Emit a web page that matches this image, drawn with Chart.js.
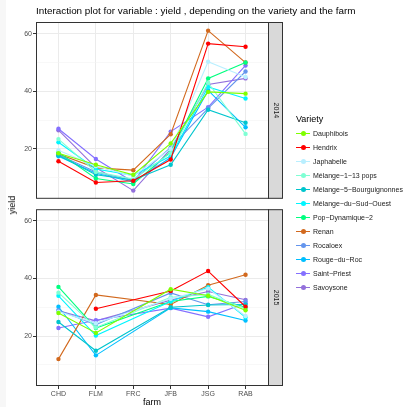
<!DOCTYPE html>
<html>
<head>
<meta charset="utf-8">
<script src="https://cdn.jsdelivr.net/npm/chart.js@4.4.1/dist/chart.umd.min.js"></script>
<style>
  body { margin: 0; background: #f7f7f7; font-family: "Liberation Sans", Arial, sans-serif; }
  #sheet { position: absolute; left: 6px; top: 0; width: 400px; height: 407px; background: #fff; }
  canvas { position: absolute; left: 0; }
  #title { position: absolute; left: 36px; top: 5px; font-size: 9.9px; color: #000; white-space: nowrap; }
  #ylab { position: absolute; left: 12px; top: 205px; font-size: 9px; color: #000;
          transform: translate(-50%, -50%) rotate(-90deg); }
  #legend { position: absolute; left: 296px; top: 112px; }
  #legend .head { font-size: 9px; height: 14px; line-height: 14px; margin-bottom: 0px; }
  #legend .item { height: 14.05px; display: flex; align-items: center; font-size: 7px; color: #1a1a1a; white-space: nowrap; }
  #legend .key { position: relative; width: 14px; height: 14px; margin-right: 3px; }
  #legend .key i { position: absolute; left: 0; top: 6.5px; width: 14px; height: 1.2px; }
  #legend .key b { position: absolute; left: 4.5px; top: 4.6px; width: 5px; height: 5px; border-radius: 50%; }
</style>
</head>
<body>
<div id="sheet"></div>
<canvas id="top2014" width="406" height="204" style="top:0"></canvas>
<canvas id="bottom2015" width="406" height="203" style="top:204px"></canvas>
<div id="title">Interaction plot for variable : yield , depending on the variety and the farm</div>
<div id="ylab">yield</div>
<div id="legend"><div class="head">Variety</div></div>
<script>
'use strict';

// data
let farms = ['CHD', 'FLM', 'FRC', 'JFB', 'JSG', 'RAB'];
let varieties = ['Dauphibois', 'Hendrix', 'Japhabelle', 'Mélange−1−13 pops',
  'Mélange−5−Bourguignonnes', 'Mélange−du−Sud−Ouest', 'Pop−Dynamique−2', 'Renan',
  'Rocaloex', 'Rouge−du−Roc', 'Saint−Priest', 'Savoysone'];
let varietyColors = ['#7fff00', '#ff0000', '#b9efff', '#7fffd4', '#00c5cd', '#00f5ff',
  '#00ff7f', '#d2691e', '#6495ed', '#00bfff', '#8470ff', '#9370db'];

let yield2014 = [
  [18.5, 14.5, 11.0, 21.9, 39.8, 39.2],
  [15.7, 8.3, 8.9, 16.3, 56.6, 55.5],
  [19.5, 14.0, 10.5, 20.0, 50.3, 45.0],
  [23.4, 12.0, 9.5, 18.5, 43.0, 25.2],
  [17.8, 11.0, 9.2, 14.5, 33.6, 29.1],
  [22.3, 13.0, 10.8, 17.5, 41.5, 37.5],
  [18.8, 9.7, 7.8, 19.0, 44.5, 50.0],
  [18.2, 13.4, 12.6, 25.1, 61.1, 50.0],
  [18.0, 12.0, 9.0, 20.5, 34.1, 46.9],
  [17.4, 11.5, 8.5, 17.0, 40.3, 27.5],
  [27.0, 16.5, 8.5, 26.0, 34.5, 49.0],
  [26.5, 13.5, 5.5, 20.0, 42.4, 44.5]
];
// no FRC plots in 2015, Hendrix missing at CHD
let yield2015 = [
  [28.0, 21.1, null, 36.3, 34.0, 29.0],
  [null, 29.5, null, 35.7, 42.6, 30.2],
  [28.5, 24.5, null, 33.0, 36.5, 27.0],
  [35.1, 23.0, null, 33.5, 34.5, 29.5],
  [24.9, 14.9, null, 30.0, 30.8, 31.0],
  [34.0, 20.2, null, 32.0, 37.0, 26.5],
  [37.1, 22.8, null, 32.0, 33.8, 30.0],
  [12.0, 34.3, null, 31.0, 37.7, 41.3],
  [29.0, 24.0, null, 35.0, 30.9, 32.0],
  [30.2, 13.3, null, 29.8, 28.5, 25.4],
  [22.8, 25.5, null, 29.7, 26.7, 31.4],
  [28.8, 25.3, null, 32.5, 35.5, 32.6]
];
let yTicks = [10, 20, 30, 40, 50, 60];
let yLabelled = [20, 40, 60];

let tickFont = { family: '"Liberation Sans", Arial, sans-serif', size: 7 };

// panel border + facet strip on the right
let panelDecor = {
  id: 'panelDecor',
  afterDraw(chart, args, opts) {
    let ctx = chart.ctx;
    let a = chart.chartArea;
    ctx.save();
    ctx.fillStyle = '#d9d9d9';
    ctx.fillRect(a.right, a.top, 14, a.bottom - a.top);
    ctx.strokeStyle = '#333333';
    ctx.lineWidth = 1;
    ctx.strokeRect(a.right + 0.5, a.top + 0.5, 14, a.bottom - a.top - 1);
    ctx.strokeRect(a.left + 0.5, a.top + 0.5, a.right - a.left, a.bottom - a.top - 1);
    ctx.translate(a.right + 7.5, (a.top + a.bottom) / 2);
    ctx.rotate(Math.PI / 2);
    ctx.fillStyle = '#1a1a1a';
    ctx.font = '7px "Liberation Sans", Arial, sans-serif';
    ctx.textAlign = 'center';
    ctx.textBaseline = 'middle';
    ctx.fillText(opts.label, 0, 0);
    ctx.restore();
  }
};

function makeDatasets(values) {
  let sets = [];
  for (let i = 0; i < varieties.length; i++) {
    sets.push({
      label: varieties[i],
      data: values[i].map((v, j) => ({ x: j, y: v })),
      borderColor: varietyColors[i],
      backgroundColor: varietyColors[i],
      pointBackgroundColor: varietyColors[i],
      borderWidth: 1.1,
      pointRadius: 2.2,
      pointBorderWidth: 0,
      spanGaps: true,
      tension: 0
    });
  }
  return sets;
}

function makePanel(canvasId, values, year, showX) {
  let ctx = document.getElementById(canvasId).getContext('2d');
  return new Chart(ctx, {
    type: 'line',
    data: { datasets: makeDatasets(values) },
    plugins: [panelDecor],
    options: {
      responsive: false,
      animation: false,
      layout: { padding: { left: 6, right: 138, top: showX ? 2 : 22, bottom: showX ? 0 : 2 } },
      plugins: {
        legend: { display: false },
        tooltip: { enabled: false },
        panelDecor: { label: year }
      },
      scales: {
        x: {
          type: 'linear',
          min: -0.6,
          max: 5.6,
          afterBuildTicks: (s) => { s.ticks = farms.map((f, i) => ({ value: i })); },
          afterFit: (s) => { s.height = showX ? 21 : 0; },
          border: { display: false },
          grid: { color: '#ebebeb', lineWidth: 1, drawTicks: showX, tickLength: 3, tickColor: '#333333' },
          ticks: {
            display: showX,
            autoSkip: false,
            maxRotation: 0,
            padding: 1,
            color: '#4d4d4d',
            font: tickFont,
            callback: (v) => farms[v]
          },
          title: {
            display: showX,
            text: 'farm',
            color: '#000',
            padding: 0,
            font: { family: '"Liberation Sans", Arial, sans-serif', size: 9, lineHeight: 1 }
          }
        },
        y: {
          type: 'linear',
          min: 2.65,
          max: 64.1,
          afterBuildTicks: (s) => { s.ticks = yTicks.map((v) => ({ value: v })); },
          afterFit: (s) => { s.width = 30; },
          border: { display: false },
          grid: {
            color: (c) => (yLabelled.includes(c.tick.value) ? '#ebebeb' : '#f4f4f4'),
            lineWidth: (c) => (yLabelled.includes(c.tick.value) ? 1 : 0.6),
            tickColor: (c) => (yLabelled.includes(c.tick.value) ? '#333333' : 'rgba(0,0,0,0)'),
            tickLength: 3
          },
          ticks: {
            autoSkip: false,
            padding: 1,
            color: '#4d4d4d',
            font: tickFont,
            callback: (v) => (yLabelled.includes(v) ? v : '')
          }
        }
      }
    }
  });
}

function renderLegend() {
  let box = document.getElementById('legend');
  for (let i = 0; i < varieties.length; i++) {
    let item = document.createElement('div');
    item.className = 'item';
    item.innerHTML = `<span class="key"><i style="background:${varietyColors[i]}"></i>` +
      `<b style="background:${varietyColors[i]}"></b></span>${varieties[i]}`;
    box.appendChild(item);
  }
}

makePanel('top2014', yield2014, '2014', false);
makePanel('bottom2015', yield2015, '2015', true);
renderLegend();
</script>
</body>
</html>
